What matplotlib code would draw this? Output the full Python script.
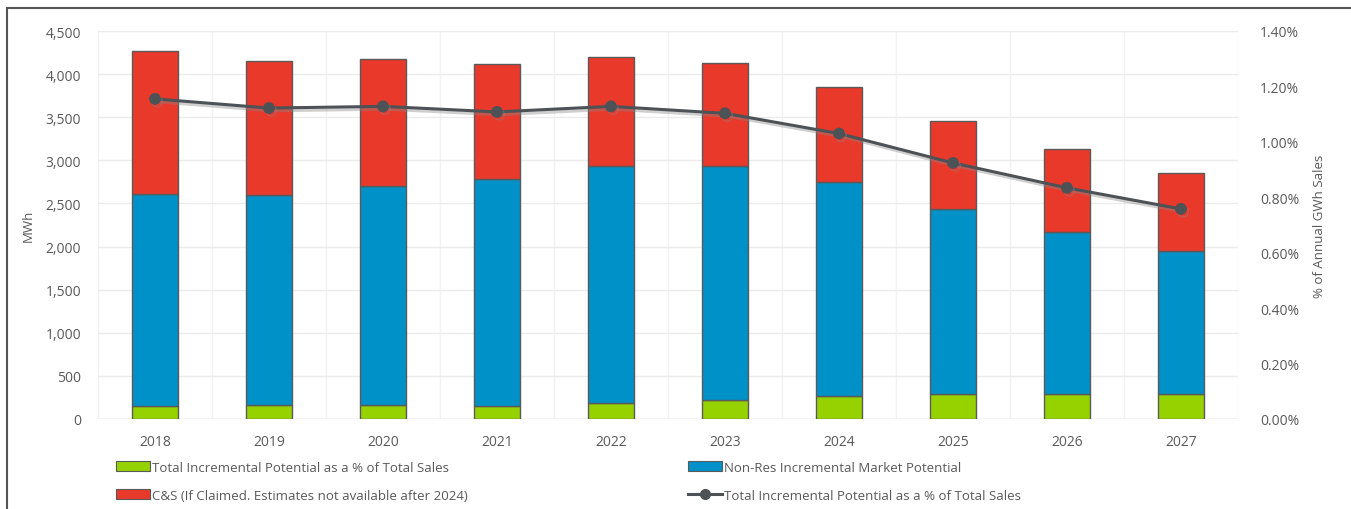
import numpy as np
import matplotlib
matplotlib.use("Agg")
import matplotlib.pyplot as plt
import matplotlib.patheffects as pe
from matplotlib.patches import Rectangle, Patch
from matplotlib.lines import Line2D
from matplotlib.ticker import FuncFormatter, MultipleLocator

# Donnees
years = ["2018", "2019", "2020", "2021", "2022", "2023", "2024", "2025", "2026", "2027"]
total_pct_bar = [147, 166, 159, 154, 186, 216, 262, 285, 285, 285]
nonres_top = [2610, 2600, 2700, 2784, 2931, 2931, 2746, 2436, 2170, 1950]
bar_top = [4265, 4150, 4170, 4118, 4203, 4130, 3855, 3457, 3130, 2850]
pct_sales = [1.155, 1.122, 1.128, 1.108, 1.128, 1.103, 1.030, 0.924, 0.834, 0.758]

green = "#96D200"
blue = "#0091C9"
red = "#E8392B"
grey_line = "#4D5257"
txt = "#595959"
edge = "#5A5A5A"

plt.rcParams['font.family'] = ['Open Sans', 'DejaVu Sans']

green_v = np.array(total_pct_bar)
blue_v = np.array(nonres_top) - green_v
red_v = np.array(bar_top) - np.array(nonres_top)

fig = plt.figure(figsize=(13.51, 5.10), dpi=100)
ax = fig.add_axes([98 / 1351, 1 - 420 / 510, (1238 - 98) / 1351, (420 - 32) / 510])

x = np.arange(len(years))
w = 0.4
ax.bar(x, green_v, w, color=green, edgecolor=edge, linewidth=1, zorder=3)
ax.bar(x, blue_v, w, bottom=green_v, color=blue, edgecolor=edge, linewidth=1, zorder=3)
ax.bar(x, red_v, w, bottom=green_v + blue_v, color=red, edgecolor=edge, linewidth=1, zorder=3)

ax.set_xlim(-0.5, len(years) - 0.5)
ax.set_ylim(0, 4500)
ax.yaxis.set_major_locator(MultipleLocator(500))
ax.yaxis.set_major_formatter(FuncFormatter(lambda v, p: "{:,.0f}".format(v)))
ax.set_xticks(x)
ax.set_xticklabels(years)
ax.set_xticks(np.arange(-0.5, len(years)), minor=True)
ax.grid(axis="y", color="#EBEBEB", linewidth=1, zorder=0)
ax.grid(axis="x", which="minor", color="#F2F2F2", linewidth=1, zorder=0)
ax.tick_params(axis="both", which="both", length=0, colors=txt, labelsize=10)
ax.tick_params(axis="x", pad=11)
ax.tick_params(axis="y", pad=12)
for s in ax.spines.values():
    s.set_visible(False)
ax.axhline(0, color="#D9D9D9", linewidth=1, zorder=2)
ax.set_ylabel("MWh", color=txt, fontsize=9.5, labelpad=8)

ax2 = ax.twinx()
ax2.set_ylim(0, 1.4)
ax2.yaxis.set_major_locator(MultipleLocator(0.2))
ax2.yaxis.set_major_formatter(FuncFormatter(lambda v, p: "%.2f%%" % v))
ax2.tick_params(axis="y", length=0, colors=txt, labelsize=10, pad=16)
for s in ax2.spines.values():
    s.set_visible(False)
ax2.set_ylabel("% of Annual GWh Sales", color=txt, fontsize=9.5, labelpad=10)
ax2.plot(x, pct_sales, color=grey_line, linewidth=2.2, marker="o", markersize=7.5,
         zorder=5,
         path_effects=[pe.SimpleLineShadow(offset=(1.5, -2), shadow_color="#888888", alpha=0.4),
                       pe.Normal()])

# Cadre de la figure
fig.patches.append(Rectangle((7 / 1351, -0.1), 1.2, 1 - 9 / 510 + 0.1, transform=fig.transFigure,
                             fill=False, edgecolor="#555555", linewidth=1.5))

# Legende en deux colonnes
h1 = [Patch(facecolor=green, edgecolor=edge, linewidth=0.8),
      Patch(facecolor=red, edgecolor=edge, linewidth=0.8)]
l1 = ["Total Incremental Potential as a % of Total Sales",
      "C&S (If Claimed. Estimates not available after 2024)"]
h2 = [Patch(facecolor=blue, edgecolor=edge, linewidth=0.8),
      Line2D([0], [0], color=grey_line, linewidth=2.2, marker="o", markersize=7)]
l2 = ["Non-Res Incremental Market Potential",
      "Total Incremental Potential as a % of Total Sales"]
kw = dict(frameon=False, fontsize=9.5, labelcolor=txt, handlelength=2.6, handleheight=0.8,
          handletextpad=0.1, labelspacing=1.1, borderpad=0, borderaxespad=0, loc="upper left")
leg1 = fig.legend(h1, l1, bbox_to_anchor=(116 / 1351, 1 - 462 / 510), **kw)
leg2 = fig.legend(h2, l2, bbox_to_anchor=(688 / 1351, 1 - 462 / 510), **kw)

fig.savefig("out.png", dpi=100)
